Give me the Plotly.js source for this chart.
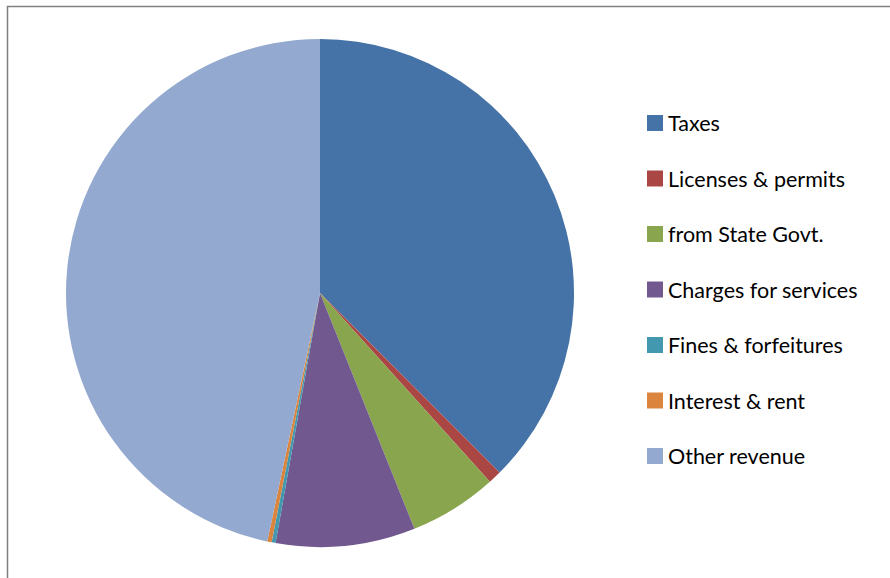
<!DOCTYPE html>
<html>
<head>
<meta charset="utf-8">
<script src="https://cdn.plot.ly/plotly-3.0.1.min.js"></script>
<style>html,body{margin:0;padding:0;background:#fff;}#chart{width:890px;height:578px;}</style>
</head>
<body>
<div id="chart"></div>
<script>
const labels = ["Taxes", "Licenses & permits", "from State Govt.", "Charges for services", "Fines & forfeitures", "Interest & rent", "Other revenue"];
const values = [37.5, 0.84, 5.6, 8.86, 0.25, 0.28, 46.67];
const colors = ["#4572A7", "#AA4643", "#89A54E", "#71588F", "#4198AF", "#DB843D", "#93A9CF"];

const W = 890, H = 578;
const shapes = [{
  type: "rect", xref: "paper", yref: "paper",
  x0: 7.5 / W, x1: 1.1, y0: -0.1, y1: 1 - 6.5 / H,
  line: {color: "#808080", width: 1.5}, fillcolor: "rgba(0,0,0,0)"
}];
const annotations = [];
const legTop = 123, legStep = 55.5, sq = 16, sqX = 647, txtX = 666;
labels.forEach((lab, i) => {
  const cy = legTop + i * legStep;
  shapes.push({
    type: "rect", xref: "paper", yref: "paper",
    x0: sqX / W, x1: (sqX + sq) / W,
    y0: 1 - (cy + sq / 2) / H, y1: 1 - (cy - sq / 2) / H,
    line: {width: 0}, fillcolor: colors[i]
  });
  annotations.push({
    xref: "paper", yref: "paper", x: txtX / W, y: 1 - cy / H,
    xanchor: "left", yanchor: "middle", showarrow: false,
    text: lab, font: {family: "Lato, 'Open Sans', sans-serif", size: 21.5, color: "#000"}
  });
});

const data = [{
  type: "pie",
  labels: labels,
  values: values,
  sort: false,
  direction: "clockwise",
  rotation: 0,
  marker: {colors: colors, line: {width: 0}},
  textinfo: "none",
  hoverinfo: "label+percent",
  domain: {x: [66 / W, 574 / W], y: [(H - 547) / H, (H - 39) / H]}
}];

const layout = {
  width: W, height: H,
  margin: {l: 0, r: 0, t: 0, b: 0},
  paper_bgcolor: "#fff",
  showlegend: false,
  shapes: shapes,
  annotations: annotations
};
Plotly.newPlot("chart", data, layout, {displayModeBar: false, staticPlot: true});
</script>
</body>
</html>
